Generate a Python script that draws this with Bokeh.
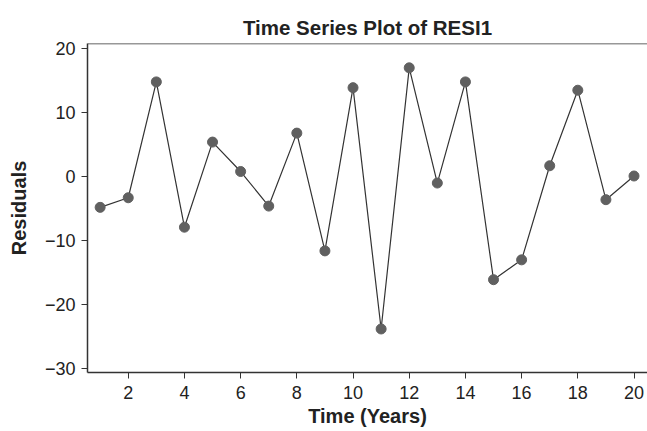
from bokeh.plotting import figure
from bokeh.models import Range1d, FixedTicker, Span
from bokeh.embed import file_html
from bokeh.resources import INLINE

time_years = list(range(1, 21))
residuals = [-4.8, -3.3, 14.8, -7.9, 5.4, 0.8, -4.6, 6.8, -11.6, 13.9,
             -23.8, 17.0, -1.0, 14.8, -16.1, -13.0, 1.7, 13.5, -3.6, 0.1]
x_ticks = [2, 4, 6, 8, 10, 12, 14, 16, 18, 20]
y_ticks = [-30, -20, -10, 0, 10, 20]
y_tick_labels = {-30: "\u221230", -20: "\u221220", -10: "\u221210", 0: "0", 10: "10", 20: "20"}

FONT = "Liberation Sans"
p = figure(width=647, height=431, output_backend="svg", toolbar_location=None,
           title="Time Series Plot of RESI1",
           x_range=Range1d(0.55, 20.48), y_range=Range1d(-30.6, 20.8),
           min_border_left=87, min_border_right=0, min_border_top=43, min_border_bottom=59)

p.title.align = "center"
p.title.text_font = FONT
p.title.text_font_size = "20.5px"
p.title.text_font_style = "bold"
p.title.text_color = "#222222"

p.outline_line_color = None
p.xgrid.visible = False
p.ygrid.visible = False
p.background_fill_color = "white"
p.border_fill_color = "white"

top_line = Span(location=20.8, dimension="width", line_color="#333333", line_width=1.5)
p.add_layout(top_line)

for ax in (p.xaxis[0], p.yaxis[0]):
    ax.axis_line_color = "#333333"
    ax.axis_line_width = 1.5
    ax.major_tick_line_color = "#333333"
    ax.major_tick_out = 6
    ax.major_tick_in = 0
    ax.minor_tick_line_color = None
    ax.major_label_text_font = FONT
    ax.major_label_text_font_size = "18px"
    ax.major_label_text_color = "#222222"
    ax.axis_label_text_font = FONT
    ax.axis_label_text_font_size = "20px"
    ax.axis_label_text_font_style = "bold"
    ax.axis_label_text_color = "#222222"

p.xaxis.ticker = FixedTicker(ticks=x_ticks)
p.yaxis.ticker = FixedTicker(ticks=y_ticks)
p.yaxis.major_label_overrides = y_tick_labels
p.xaxis.major_label_standoff = 7
p.yaxis.major_label_standoff = 6
p.xaxis.axis_label_standoff = 3
p.yaxis.axis_label_standoff = 12

p.line(time_years, residuals, line_color="#333333", line_width=1.2)
p.scatter(time_years, residuals, size=10, fill_color="#606060", line_color="#606060")

p.xaxis.axis_label = "Time (Years)"
p.yaxis.axis_label = "Residuals"

open("out.html", "w").write(file_html(p, INLINE))
